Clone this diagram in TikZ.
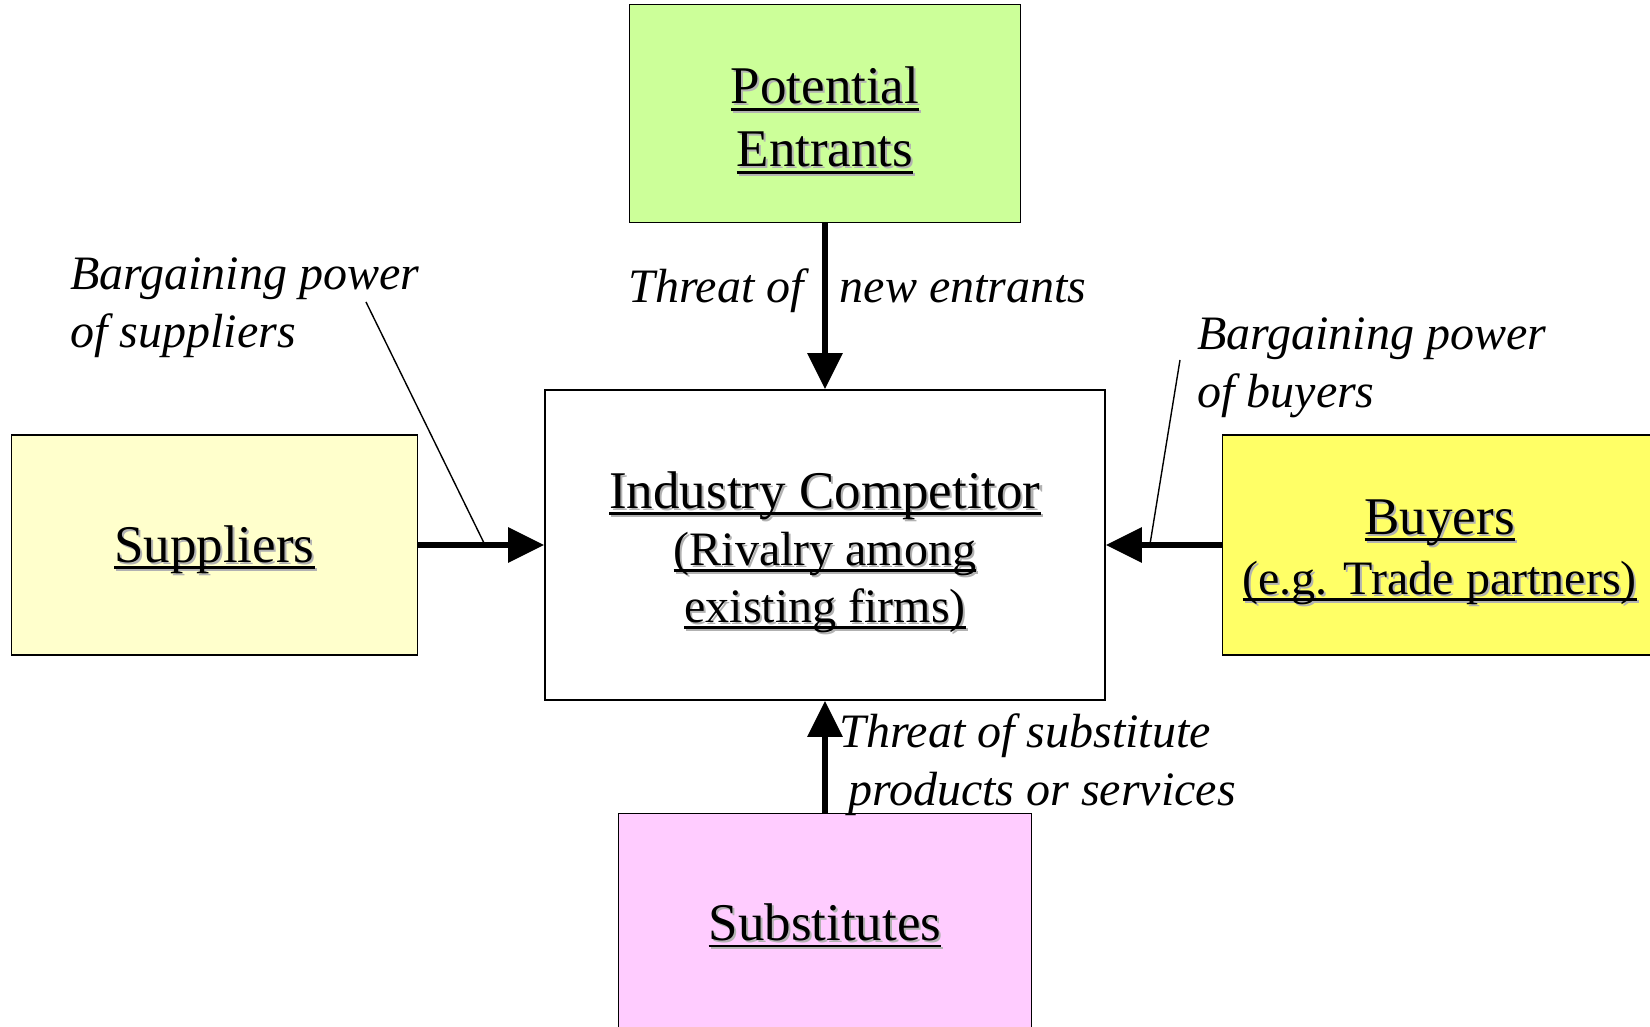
\documentclass[tikz,border=0pt]{standalone}
\usepackage{fontspec}
\setmainfont{Liberation Serif}
\usetikzlibrary{positioning,arrows.meta,calc}

\definecolor{entgreen}{HTML}{CCFF99}
\definecolor{supyellow}{HTML}{FFFFCC}
\definecolor{buyyellow}{HTML}{FFFF66}
\definecolor{subpink}{HTML}{FFCCFF}

% underlined text with a light drop shadow
\newcommand{\ulshadow}[1]{\leavevmode\setbox0\hbox{#1}%
  \rlap{\kern1pt\raisebox{-1pt}[0pt][0pt]{\color{black!30}\copy0\llap{\rule[-0.13em]{\wd0}{0.055em}}}}%
  \rlap{\rule[-0.13em]{\wd0}{0.055em}}\box0}

\begin{document}
\begin{tikzpicture}[x=0.5pt,y=0.5pt,
        box/.style={draw,line width=0.8pt,inner sep=0pt,align=center},
        force/.style={line width=3pt,-{Triangle[length=18pt,width=17pt]}},
        pointer/.style={line width=0.7pt},
        tag/.style={font=\fontsize{24}{29}\selectfont\itshape,inner sep=0pt,align=left}]
        \clip (-825,545) rectangle (825,-482);
        \node(ind) [box,minimum width=280pt,minimum height=155pt,font=\fontsize{24}{28.5}\selectfont]
            {{\fontsize{26.5}{28.5}\selectfont\rule{0pt}{25.5pt}\ulshadow{Industry Competitor}}\\ \ulshadow{(Rivalry among}\\ \ulshadow{existing firms)}};
        \node(ent) [box,fill=entgreen,above=83pt of ind,minimum width=195.5pt,minimum height=109pt,font=\fontsize{26.5}{31.5}\selectfont]
            {\rule{0pt}{25.5pt}\ulshadow{Potential}\\ \ulshadow{Entrants}};
        \node(sup) [box,fill=supyellow,left=63pt of ind,minimum width=203pt,minimum height=110pt,font=\fontsize{26.5}{31.5}\selectfont]
            {\rule{0pt}{23pt}\ulshadow{Suppliers}};
        \node(buy) [box,fill=buyyellow,right=58pt of ind,minimum width=217pt,minimum height=110pt,font=\fontsize{24}{30}\selectfont]
            {{\fontsize{26.5}{30}\selectfont\rule{0pt}{24.5pt}\ulshadow{Buyers}}\\ \ulshadow{(e.g. Trade partners)}};
        \node(sub) [box,fill=subpink,below=56pt of ind,minimum width=206.5pt,minimum height=112pt,font=\fontsize{26.5}{31.5}\selectfont]
            {\ulshadow{Substitutes}};

        \node(suptag) [tag,anchor=base west] at (-755,197) {Bargaining power\\of suppliers};
        \node(buytag) [tag,anchor=base west] at (372,137) {Bargaining power\\of buyers};
        \node(enttag) [tag,anchor=base west] at (-197,242) {Threat of\hspace{18pt}new entrants};
        \node(subtag) [tag,anchor=base west] at (14,-261) {Threat of substitute\\\hspace*{4.5pt}products or services};

        \coordinate(supfoot) at (-459,243);
        \coordinate(buyfoot) at (355,185);
        \coordinate(suptip) at ($(sup.east)!0.53!(ind.west)$);
        \coordinate(buytip) at ($(buy.west)!0.62!(ind.east)$);
        \draw[pointer] (supfoot) -- (suptip);
        \draw[pointer] (buyfoot) -- (buytip);

        \draw[force] (ent) -- (ind);
        \draw[force] (sup) -- (ind);
        \draw[force] (buy) -- (ind);
        \draw[force] (sub) -- (ind);
    \end{tikzpicture}
\end{document}
